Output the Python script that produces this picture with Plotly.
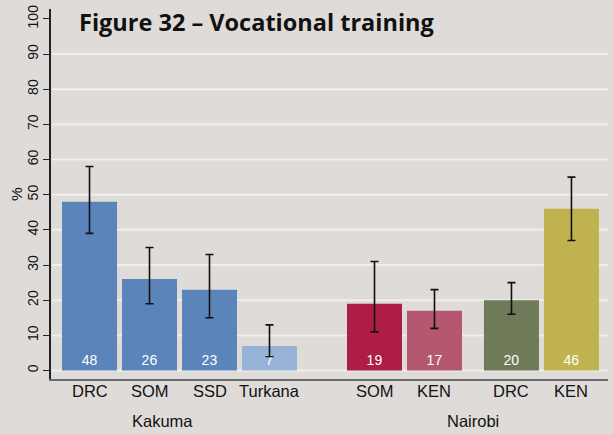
import plotly.graph_objects as go

# Survey shares (%) with confidence bounds
categories = ["DRC", "SOM", "SSD", "Turkana", "SOM", "KEN", "DRC", "KEN"]
groups = ["Kakuma", "Nairobi"]
values = [48, 26, 23, 7, 19, 17, 20, 46]
upper = [58, 35, 33, 13, 31, 23, 25, 55]
lower = [39, 19, 15, 4, 11, 12, 16, 37]
colors = ["#5b84bb", "#5b84bb", "#5b84bb", "#97b3d8",
          "#ad1d45", "#b5576e", "#6e7a58", "#c0b34f"]

# bar slots: Kakuma block, wider gap, then two Nairobi pairs
xpos = [0, 1, 2, 3, 4.75, 5.75, 7.033, 8.033]
group_centers = [1.22, 6.39]

err_plus = [u - v for u, v in zip(upper, values)]
err_minus = [v - l for v, l in zip(values, lower)]

bg = "#dfdbd8"
ink = "#111111"
font_family = "Liberation Sans, Arial, sans-serif"

fig = go.Figure()
fig.add_trace(go.Bar(
    x=xpos, y=values, width=0.917,
    marker=dict(color=colors, line=dict(width=0)),
    error_y=dict(type="data", symmetric=False, array=err_plus, arrayminus=err_minus,
                 color=ink, thickness=1.6, width=4),
    text=[str(v) for v in values], textposition="inside", insidetextanchor="start",
    textfont=dict(color="white", size=14, family=font_family),
    cliponaxis=False, hoverinfo="skip",
))

# horizontal guide lines
for g in range(0, 100, 10):
    fig.add_shape(type="line", xref="paper", yref="y", x0=0.002, x1=1, y0=g, y1=g,
                  line=dict(color="#efefef", width=2), layer="below")

# category labels under each bar
for name, cx in zip(categories, xpos):
    fig.add_annotation(x=cx, y=0, xref="x", yref="paper", text=name, showarrow=False,
                       yanchor="top", yshift=-1, font=dict(size=16.5, color=ink, family=font_family))

# site labels under each block
for name, cx in zip(groups, group_centers):
    fig.add_annotation(x=cx, y=0, xref="x", yref="paper", text=name, showarrow=False,
                       yanchor="top", yshift=-31, font=dict(size=16.5, color=ink, family=font_family))

fig.add_annotation(x=-0.0628, y=0.5, xref="paper", yref="paper", text="%", textangle=-90,
                   xanchor="center", yanchor="middle",
                   showarrow=False, font=dict(size=15.5, color=ink, family=font_family))

fig.add_annotation(x=0.0467, y=1, xref="paper", yref="paper", xanchor="left", yanchor="top",
                   text="<b>Figure 32 – Vocational training</b>", showarrow=False, yshift=5,
                   font=dict(size=23.5, color=ink, family="Open Sans, Noto Sans, sans-serif"))

fig.update_layout(
    width=613, height=434,
    margin=dict(l=51, r=5, t=7, b=55),
    paper_bgcolor=bg, plot_bgcolor=bg,
    showlegend=False,
    font=dict(family=font_family, color=ink),
    xaxis=dict(range=[-0.642, 8.642], showticklabels=False,
               showgrid=False, zeroline=False, showline=True, linecolor="#6a6a6a", linewidth=2,
               ticks=""),
    yaxis=dict(range=[-2.4, 102.8], tickvals=list(range(0, 101, 10)), tickangle=-90,
               showgrid=False, zeroline=False, showline=True, linecolor="#222222", linewidth=1.5,
               ticks="outside", ticklen=6, tickcolor="#222222", tickwidth=1.2,
               tickfont=dict(size=14, color=ink)),
)

fig.write_html("out.html")
